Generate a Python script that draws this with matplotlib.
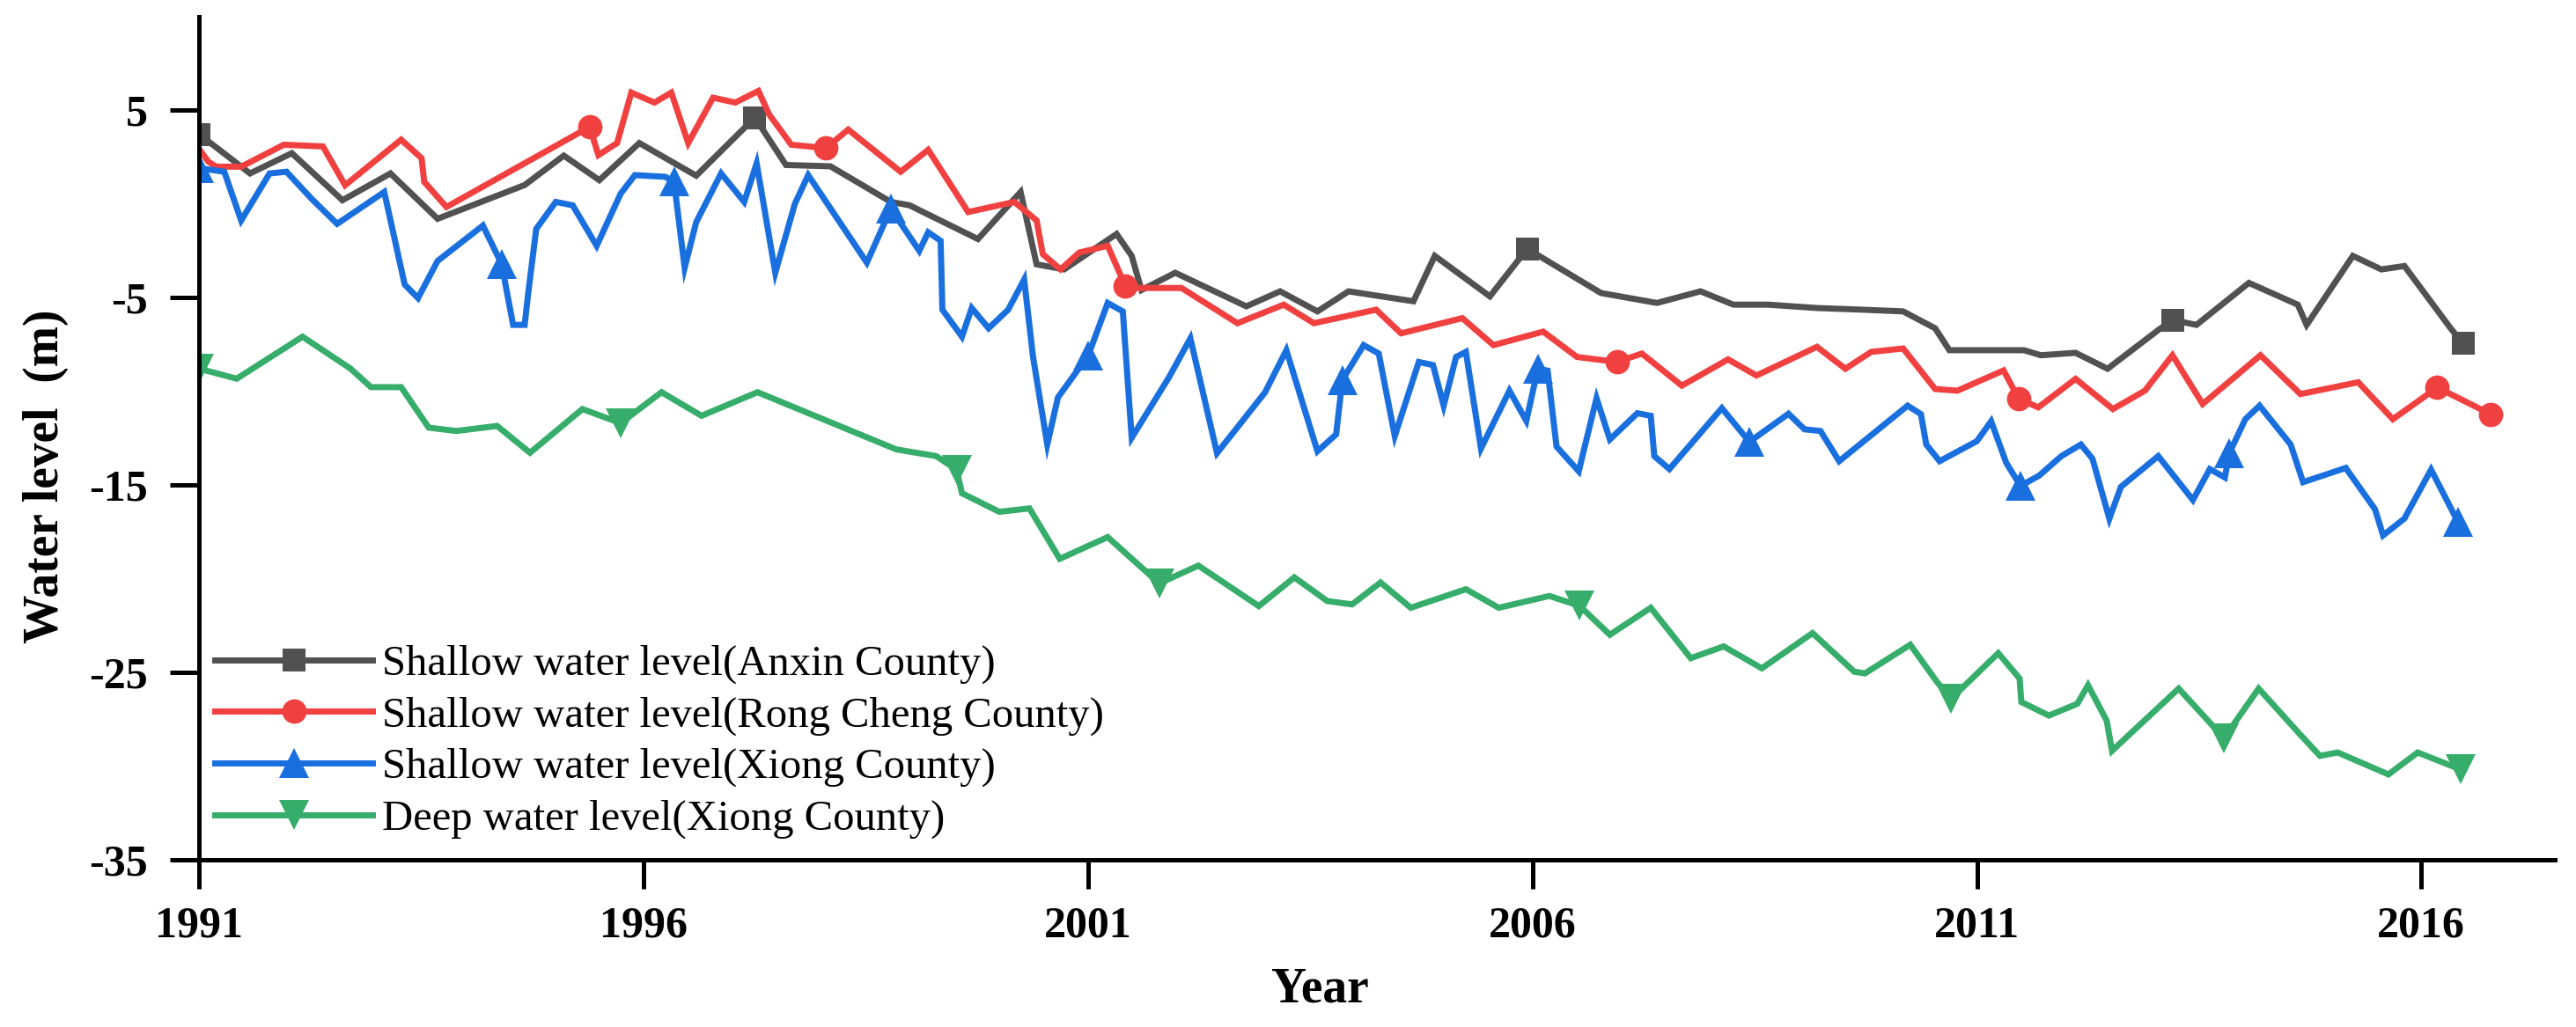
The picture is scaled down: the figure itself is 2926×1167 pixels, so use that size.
import matplotlib
matplotlib.use("Agg")
import matplotlib.pyplot as plt
from matplotlib.lines import Line2D
import numpy as np

# ---------------- data ----------------
anxin_year = [1991.0, 1991.57, 1992.04, 1992.61, 1993.15, 1993.68, 1994.66, 1995.1, 1995.5, 1995.95,
              1996.59, 1997.25, 1997.6, 1998.1, 1998.78, 1998.99, 1999.76, 2000.24, 2000.42, 2000.73,
              2001.32, 2001.49, 2001.6, 2001.98, 2002.78, 2003.16, 2003.58, 2003.93, 2004.66, 2004.9,
              2005.52, 2005.94, 2006.77, 2007.4, 2007.89, 2008.26, 2008.65, 2009.2, 2009.72, 2010.17,
              2010.53, 2010.69, 2011.53, 2011.72, 2012.11, 2012.47, 2013.05, 2013.2, 2013.47, 2014.06,
              2014.61, 2014.71, 2015.23, 2015.55, 2015.81, 2016.33, 2016.47]
anxin_level = [3.7, 1.62, 2.7, 0.19, 1.62, -0.8, 1.0, 2.57, 1.26, 3.24,
               1.5, 4.6, 2.07, 2.0, 0.1, -0.08, -1.88, 0.63, -3.23, -3.5,
               -1.61, -2.78, -4.6, -3.68, -5.47, -4.67, -5.74, -4.67, -5.2, -2.78,
               -4.94, -2.4, -4.76, -5.29, -4.67, -5.38, -5.38, -5.56, -5.65, -5.74,
               -6.64, -7.81, -7.81, -8.08, -7.95, -8.8, -6.7, -6.2, -6.46, -4.22,
               -5.38, -6.46, -2.78, -3.5, -3.32, -6.64, -7.45]

rong_year = [1991.0, 1991.1, 1991.19, 1991.47, 1991.95, 1992.39, 1992.64, 1993.27, 1993.5, 1993.53,
             1993.78, 1995.39, 1995.49, 1995.7, 1995.86, 1996.12, 1996.31, 1996.5, 1996.78, 1997.03,
             1997.29, 1997.41, 1997.66, 1998.05, 1998.3, 1998.89, 1999.2, 1999.65, 2000.17, 2000.42,
             2000.49, 2000.69, 2000.9, 2001.22, 2001.42, 2001.56, 2002.05, 2002.68, 2003.2, 2003.54,
             2004.24, 2004.52, 2005.21, 2005.56, 2006.12, 2006.5, 2006.95, 2007.23, 2007.68, 2008.2,
             2008.52, 2009.2, 2009.52, 2009.81, 2010.17, 2010.53, 2010.78, 2011.3, 2011.47, 2011.69,
             2012.11, 2012.53, 2012.89, 2013.2, 2013.54, 2014.19, 2014.64, 2015.29, 2015.68, 2016.18,
             2016.29, 2016.78]
rong_level = [2.9, 2.25, 1.98, 1.98, 3.15, 3.06, 0.99, 3.42, 2.43, 1.17,
              -0.17, 4.1, 2.6, 3.24, 5.93, 5.4, 5.93, 3.24, 5.66, 5.4,
              6.02, 4.77, 3.15, 2.97, 3.96, 1.71, 2.88, -0.44, 0.1, -0.89,
              -2.69, -3.5, -2.6, -2.24, -4.4, -4.49, -4.49, -6.37, -5.38, -6.37,
              -5.65, -6.91, -6.1, -7.54, -6.82, -8.17, -8.44, -7.99, -9.7, -8.3,
              -9.16, -7.63, -8.8, -7.9, -7.72, -9.88, -9.97, -8.89, -10.4, -10.86,
              -9.34, -10.95, -9.97, -8.08, -10.68, -8.08, -10.15, -9.52, -11.49, -9.8,
              -10.06, -11.22]

xiong_year = [1991.0, 1991.28, 1991.47, 1991.79, 1991.98, 1992.26, 1992.55, 1993.08, 1993.31, 1993.46,
              1993.68, 1994.19, 1994.4, 1994.53, 1994.66, 1994.7, 1994.79, 1995.01, 1995.2, 1995.47,
              1995.74, 1995.9, 1996.24, 1996.34, 1996.46, 1996.59, 1996.87, 1997.13, 1997.27, 1997.48,
              1997.7, 1997.85, 1998.51, 1998.78, 1999.1, 1999.2, 1999.34, 1999.36, 1999.58, 1999.69,
              1999.88, 2000.1, 2000.28, 2000.38, 2000.54, 2000.66, 2001.0, 2001.22, 2001.39, 2001.49,
              2001.91, 2002.15, 2002.45, 2002.99, 2003.23, 2003.58, 2003.79, 2003.86, 2004.1, 2004.27,
              2004.45, 2004.72, 2004.88, 2005.0, 2005.14, 2005.25, 2005.42, 2005.74, 2005.93, 2006.06,
              2006.17, 2006.27, 2006.52, 2006.72, 2006.87, 2007.18, 2007.33, 2007.37, 2007.54, 2008.13,
              2008.44, 2008.88, 2009.06, 2009.24, 2009.45, 2010.22, 2010.37, 2010.43, 2010.58, 2011.0,
              2011.16, 2011.33, 2011.49, 2011.7, 2011.95, 2012.17, 2012.3, 2012.49, 2012.62, 2013.04,
              2013.43, 2013.62, 2013.79, 2013.84, 2014.02, 2014.18, 2014.53, 2014.67, 2015.15, 2015.48,
              2015.57, 2015.81, 2016.11, 2016.41]
xiong_level = [1.9, 1.71, -0.89, 1.62, 1.71, 0.28, -1.07, 0.63, -4.31, -5.03,
               -3.05, -1.16, -3.2, -6.46, -6.46, -4.76, -1.34, 0.1, -0.08, -2.24,
               0.54, 1.53, 1.44, 1.2, -3.41, -0.98, 1.62, 0.1, 2.16, -3.68,
               0.0, 1.53, -3.14, -0.26, -2.51, -1.52, -1.97, -5.65, -7.09, -5.56,
               -6.64, -5.65, -4.04, -8.17, -12.84, -10.33, -8.1, -5.29, -5.74, -12.48,
               -9.25, -7.18, -13.3, -10.06, -7.81, -13.2, -12.3, -9.4, -7.54, -7.99,
               -12.39, -8.44, -8.6, -10.77, -8.17, -7.9, -13.05, -9.97, -11.58, -8.8,
               -8.9, -12.95, -14.27, -10.37, -12.57, -11.17, -11.31, -13.46, -14.15, -10.9,
               -12.7, -11.2, -12.03, -12.12, -13.73, -10.77, -11.22, -12.84, -13.73, -12.66,
               -11.6, -13.82, -15.05, -14.5, -13.46, -12.84, -13.6, -16.8, -15.1, -13.46,
               -15.8, -14.15, -14.6, -13.3, -11.49, -10.77, -12.84, -14.85, -14.09, -16.3,
               -17.69, -16.79, -14.18, -16.95]

deep_year = [1991.0, 1991.42, 1992.16, 1992.7, 1992.93, 1993.27, 1993.58, 1993.89, 1994.35, 1994.72,
             1995.31, 1995.74, 1996.2, 1996.65, 1997.28, 1998.84, 1999.29, 1999.52, 1999.58, 2000.0,
             2000.34, 2000.68, 2001.22, 2001.8, 2002.24, 2002.92, 2003.32, 2003.69, 2003.97, 2004.29,
             2004.63, 2005.25, 2005.62, 2006.19, 2006.53, 2006.87, 2007.33, 2007.78, 2008.15, 2008.58,
             2009.15, 2009.62, 2009.74, 2010.25, 2010.55, 2010.71, 2011.24, 2011.48, 2011.5, 2011.81,
             2012.13, 2012.25, 2012.46, 2012.52, 2013.27, 2013.78, 2014.17, 2014.65, 2014.86, 2015.06,
             2015.63, 2015.96, 2016.44]
deep_level = [-8.8, -9.33, -7.09, -8.79, -9.78, -9.78, -11.94, -12.12, -11.85, -13.28,
              -10.95, -11.7, -10.05, -11.31, -10.05, -13.1, -13.46, -14.18, -15.44, -16.43,
              -16.25, -18.94, -17.78, -20.25, -19.3, -21.46, -19.93, -21.19, -21.37, -20.2,
              -21.55, -20.56, -21.55, -20.92, -21.45, -22.99, -21.55, -24.24, -23.61, -24.78,
              -22.9, -24.96, -25.05, -23.52, -25.5, -26.4, -23.97, -25.32, -26.58, -27.3,
              -26.67, -25.68, -27.57, -29.18, -25.86, -28.5, -25.86, -28.38, -29.45, -29.27,
              -30.44, -29.27, -30.17]

# years at which the reference shows a symbol
anxin_mark_years = [1991.0, 1997.25, 2005.94, 2013.2, 2016.47]
rong_mark_years = [1995.39, 1998.05, 2001.42, 2006.95, 2011.47, 2016.18, 2016.78]
xiong_mark_years = [1991.0, 1994.4, 1996.34, 1998.78, 2001.0, 2003.86, 2006.06, 2008.44,
                    2011.49, 2013.84, 2016.41]
deep_mark_years = [1991.0, 1995.74, 1999.52, 2001.8, 2006.53, 2010.71, 2013.78, 2016.44]

labels = ["Shallow water level(Anxin County)",
          "Shallow water level(Rong Cheng County)",
          "Shallow water level(Xiong County)",
          "Deep water level(Xiong County)"]
x_ticks = [1991, 1996, 2001, 2006, 2011, 2016]
y_ticks = [5, -5, -15, -25, -35]

# ---------------- style ----------------
plt.rcParams['font.family'] = ['Liberation Serif', 'DejaVu Serif']
plt.rcParams['axes.unicode_minus'] = False
colors = ['#515151', '#F14040', '#1A6FDF', '#37AD6B']
markers = ['s', 'o', '^', 'v']
msizes = [19, 20, 24, 24]
LW = 5.0

fig = plt.figure(figsize=(29.26, 11.67), dpi=100)
ax = fig.add_axes([0.0774, 0.1627, 0.9917 - 0.0774, 0.9841 - 0.1627])

series = [(anxin_year, anxin_level, anxin_mark_years),
          (rong_year, rong_level, rong_mark_years),
          (xiong_year, xiong_level, xiong_mark_years),
          (deep_year, deep_level, deep_mark_years)]

def mark_idx(xs, marks):
    xs = np.asarray(xs)
    return sorted(set(int(np.argmin(np.abs(xs - m))) for m in marks))

handles = []
for (xs, ys, mk), c, m, ms, lab in zip(series, colors, markers, msizes, labels):
    ax.plot(xs, ys, color=c, lw=LW, marker=m, markersize=ms,
            markevery=mark_idx(xs, mk), markeredgewidth=0, solid_joinstyle='miter')
    handles.append(Line2D([], [], color=c, lw=LW, marker=m, markersize=ms,
                          markeredgewidth=0, label=lab))

ax.set_xlim(1991, 2017.5)
ax.set_ylim(-35, 10)
ax.set_xticks(x_ticks)
ax.set_yticks(y_ticks)
for s in ['top', 'right']:
    ax.spines[s].set_visible(False)
for s in ['left', 'bottom']:
    ax.spines[s].set_linewidth(3.6)
ax.tick_params(axis='both', direction='out', length=24, width=3.6, labelsize=36)
ax.tick_params(axis='x', pad=14)
ax.tick_params(axis='y', pad=18)
for t in ax.get_xticklabels() + ax.get_yticklabels():
    t.set_fontweight('bold')

ax.set_xlabel("Year", fontsize=40, fontweight='bold', va='center')
ax.xaxis.set_label_coords(0.4757, -0.154)
ax.set_ylabel("Water level  (m)", fontsize=40, fontweight='bold', va='center')
ax.yaxis.set_label_coords(-0.0652, 0.455)

leg = ax.legend(handles=handles, loc='center left', bbox_to_anchor=(0.0066, 0.140),
                frameon=False, fontsize=35, handlelength=3.68, handletextpad=0.23,
                labelspacing=0.29, borderpad=0, borderaxespad=0, numpoints=1)

fig.savefig("out.png", dpi=100)
